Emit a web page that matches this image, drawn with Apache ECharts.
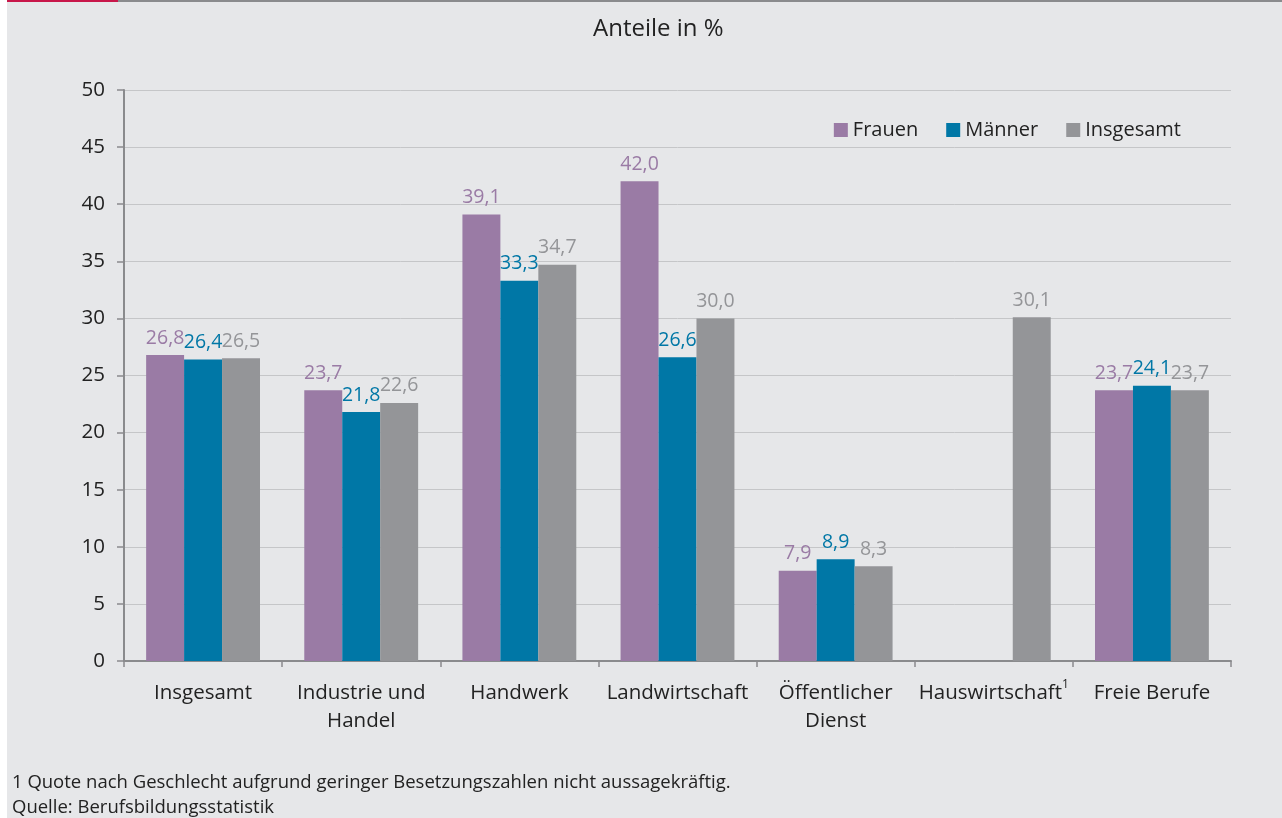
<!DOCTYPE html>
<html><head><meta charset="utf-8">
<script src="https://cdn.jsdelivr.net/npm/echarts@6/dist/echarts.min.js"></script>
<style>html,body{margin:0;padding:0;background:#fff;}#c{width:1282px;height:818px;}</style>
</head><body><div id="c"></div>
<script>
const categories = ['Insgesamt', 'Industrie und\nHandel', 'Handwerk', 'Landwirtschaft', 'Öffentlicher\nDienst', 'Hauswirtschaft{sup|1}', 'Freie Berufe'];
const frauen = [26.8, 23.7, 39.1, 42.0, 7.9, null, 23.7];
const maenner = [26.4, 21.8, 33.3, 26.6, 8.9, null, 24.1];
const insgesamt = [26.5, 22.6, 34.7, 30.0, 8.3, 30.1, 23.7];
const yTicks = [0, 5, 10, 15, 20, 25, 30, 35, 40, 45, 50];

const font = 'Open Sans, Noto Sans, sans-serif';
const chart = echarts.init(document.getElementById('c'));
function lbl(color) {
  return { show: true, position: 'top', distance: 7, color: color, fontSize: 19.5, fontFamily: font,
    formatter: p => p.value == null ? '' : p.value.toFixed(1).replace('.', ',') };
}
chart.setOption({
  backgroundColor: 'transparent',
  animation: false,
  textStyle: { fontFamily: font },
  graphic: [
    { type: 'rect', shape: { x: 7, y: 0, width: 1275, height: 818 }, style: { fill: '#e6e7e9' }, z: -10 },
    { type: 'rect', shape: { x: 7, y: 0, width: 111, height: 2 }, style: { fill: '#c8174a' } },
    { type: 'rect', shape: { x: 118, y: 0, width: 1164, height: 2 }, style: { fill: '#8a8b8d' } },
    { type: 'text', left: 12, top: 770, style: { text: '1 Quote nach Geschlecht aufgrund geringer Besetzungszahlen nicht aussagekräftig.\nQuelle: Berufsbildungsstatistik', fill: '#222', fontSize: 18.5, lineHeight: 25, fontFamily: font } }
  ],
  title: { text: 'Anteile in %', left: 588, top: 12, textStyle: { fontSize: 24, fontWeight: 'normal', color: '#222', fontFamily: font } },
  legend: {
    right: 96, top: 115, itemWidth: 14, itemHeight: 14, itemGap: 28, icon: 'rect',
    textStyle: { fontSize: 20, color: '#222', fontFamily: font }
  },
  grid: { left: 124, right: 51, top: 90, bottom: 157, containLabel: false },
  xAxis: {
    type: 'category', data: categories,
    axisLine: { lineStyle: { color: '#8a8b8d', width: 2 } },
    axisTick: { show: true, length: 6, lineStyle: { color: '#8a8b8d', width: 1.5 } },
    axisLabel: { fontSize: 20.5, color: '#222', lineHeight: 28, margin: 18, interval: 0, fontFamily: font,
      rich: { sup: { fontSize: 12, verticalAlign: 'top', color: '#222', padding: [0, 0, 12, 0] } } }
  },
  yAxis: {
    type: 'value', min: 0, max: 50, interval: 5,
    axisLine: { show: true, lineStyle: { color: '#8a8b8d', width: 2 } },
    axisTick: { show: true, length: 7, lineStyle: { color: '#8a8b8d', width: 1.5 } },
    axisLabel: { fontSize: 20.5, color: '#222', margin: 19, fontFamily: font, formatter: v => yTicks.includes(v) ? String(v) : '' },
    splitLine: { lineStyle: { color: '#c5c6c8', width: 1 } }
  },
  series: [
    { name: 'Frauen', type: 'bar', data: frauen, itemStyle: { color: '#9a7ba5' }, barGap: '0%', barCategoryGap: '28%', label: lbl('#9a7ba5') },
    { name: 'Männer', type: 'bar', data: maenner, itemStyle: { color: '#0077a6' }, label: lbl('#0077a6') },
    { name: 'Insgesamt', type: 'bar', data: insgesamt, itemStyle: { color: '#949598' }, label: lbl('#949598') }
  ]
});
</script></body></html>
